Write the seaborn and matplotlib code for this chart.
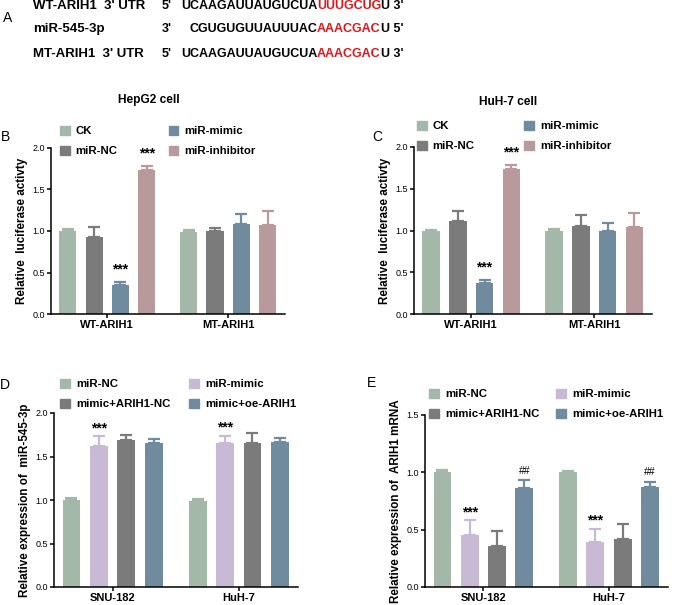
import matplotlib
matplotlib.use('Agg')
import matplotlib.pyplot as plt
import matplotlib.patches as mpatches
import seaborn as sb
import pandas as pd
import numpy as np

# ---- data ----
luc_groups = ['WT-ARIH1', 'MT-ARIH1']
luc_conds = ['CK', 'miR-NC', 'miR-mimic', 'miR-inhibitor']
hep_mean = [[1.00, 0.93, 0.35, 1.73], [0.99, 1.00, 1.09, 1.07]]
hep_err = [[0.02, 0.12, 0.04, 0.05], [0.02, 0.04, 0.12, 0.17]]
huh_mean = [[0.99, 1.11, 0.37, 1.74], [1.00, 1.05, 1.00, 1.04]]
huh_err = [[0.02, 0.12, 0.04, 0.05], [0.02, 0.14, 0.09, 0.17]]

cells = ['SNU-182', 'HuH-7']
res_conds = ['miR-NC', 'miR-mimic', 'mimic+ARIH1-NC', 'mimic+oe-ARIH1']
mir_mean = [[1.00, 1.62, 1.69, 1.66], [0.99, 1.65, 1.66, 1.67]]
mir_err = [[0.02, 0.11, 0.06, 0.04], [0.02, 0.09, 0.11, 0.04]]
arih_mean = [[1.00, 0.455, 0.36, 0.86], [1.00, 0.39, 0.42, 0.87]]
arih_err = [[0.02, 0.13, 0.13, 0.07], [0.01, 0.12, 0.13, 0.05]]

seq_rows = [("WT-ARIH1  3' UTR", "5'", 'UCAAGAUUAUGUCUA', 'UUUGCUG', "U 3'"),
            ('miR-545-3p', "3'", 'CGUGUGUUAUUUAC', 'AAACGAC', "U 5'"),
            ("MT-ARIH1  3' UTR", "5'", 'UCAAGAUUAUGUCUA', 'AAACGAC', "U 3'")]

GREEN = '#a3b8a9'
GREY = '#7b7b7b'
BLUE = '#6f8b9d'
PINK = '#b99a9c'
LAV = '#c8bad5'

W, H = 676, 605
plt.rcParams['font.family'] = ['Liberation Sans', 'DejaVu Sans']
fig = plt.figure(figsize=(W / 100, H / 100), dpi=100)


def fx(x):
    return x / W


def fy(y):
    return 1 - y / H


def make_df(groups, conds, mean, err):
    rows = []
    for i, g in enumerate(groups):
        for j, c in enumerate(conds):
            rows.append({'group': g, 'cond': c, 'value': mean[i][j], 'err': err[i][j]})
    return pd.DataFrame(rows)


def panel(box, groups, conds, mean, err, colors, ymax, ylabel):
    x0, y0, x1, y1 = box
    ax = fig.add_axes([fx(x0), fy(y1), (x1 - x0) / W, (y1 - y0) / H])
    df = make_df(groups, conds, mean, err)
    sb.barplot(data=df, x='group', y='value', hue='cond', hue_order=conds,
               palette=colors, width=0.87, gap=0.35, errorbar=None,
               saturation=1, legend=False, ax=ax)
    tops = {}
    bar_conts = list(ax.containers)
    for j, cont in enumerate(bar_conts):
        for i, bar in enumerate(cont):
            xc = bar.get_x() + bar.get_width() / 2
            h = bar.get_height()
            e = err[i][j]
            ax.errorbar(xc, h, yerr=[[0], [e]], color=colors[j], lw=1.6,
                        capsize=4.5, capthick=1.6)
            tops[(i, j)] = (xc, h + e)
    ax.set_xlim(-0.465, 1.47)
    ax.set_ylim(0, ymax)
    ticks = np.arange(0, ymax + 0.01, 0.5)
    ax.set_yticks(ticks)
    ax.set_yticklabels(['%.1f' % v for v in ticks], fontsize=6.5)
    ax.set_xlabel('')
    ax.set_ylabel(ylabel, fontsize=8.4, fontweight='bold', labelpad=3)
    for lab in ax.get_xticklabels():
        lab.set_fontweight('bold')
        lab.set_fontsize(8)
    sb.despine(ax=ax)
    for s in ['left', 'bottom']:
        ax.spines[s].set_linewidth(1.1)
    ax.tick_params(axis='both', length=3, width=1.1, pad=1.5)
    return ax, tops


def stars(ax, tops, keys, off, txt='***', size=10, weight='bold'):
    for k in keys:
        xc, t = tops[k]
        ax.annotate(txt, (xc, t), xytext=(0, off), textcoords='offset points',
                    ha='center', va='bottom', fontsize=size, fontweight=weight)


def legend(ax, labels, colors, x, y, colsp, pad):
    hs = [mpatches.Patch(color=c, label=l) for l, c in zip(labels, colors)]
    ax.legend(handles=hs, loc='upper left', bbox_to_anchor=(fx(x), fy(y)),
              bbox_transform=fig.transFigure, ncol=2, frameon=False,
              prop={'weight': 'bold', 'size': 8.2}, handlelength=0.85,
              handleheight=0.85, handletextpad=pad, columnspacing=colsp,
              labelspacing=0.85, borderaxespad=0, borderpad=0)


# ---- panel A ----
fig.text(fx(3), fy(18), 'A', fontsize=10, va='center')
rend = fig.canvas.get_renderer()
row_y = [9, 32, 57]
for (lab, end5, seq, red, tail), yy in zip(seq_rows, row_y):
    kw = dict(fontsize=9, fontweight='bold', va='baseline')
    fig.text(fx(33), fy(yy), lab, fontsize=9.5, fontweight='bold', va='baseline')
    fig.text(fx(162), fy(yy), end5, **kw)
    fig.text(fx(317), fy(yy), seq, ha='right', **kw)
    t2 = fig.text(fx(317), fy(yy), red, color='#e0161c', **kw)
    bb = t2.get_window_extent(rend)
    fig.text(bb.x1 / W, fy(yy), tail, **kw)

# ---- panel B ----
colors_bc = [GREEN, GREY, BLUE, PINK]
axB, tB = panel((51, 148, 285, 314), luc_groups, luc_conds, hep_mean, hep_err,
                colors_bc, 2.0, 'Relative  luciferase activty')
stars(axB, tB, [(0, 2), (0, 3)], 4)
legend(axB, luc_conds, colors_bc, 60, 125.5, 4.5, 0.5)
fig.text(fx(149), fy(100), 'HepG2 cell', fontsize=8.6, fontweight='bold', ha='center', va='center')
fig.text(fx(6), fy(137), 'B', fontsize=10, va='center', ha='center')

# ---- panel C ----
axC, tC = panel((414, 147, 652, 314), luc_groups, luc_conds, huh_mean, huh_err,
                colors_bc, 2.0, 'Relative  luciferase activty')
stars(axC, tC, [(0, 2), (0, 3)], 4)
legend(axC, luc_conds, colors_bc, 417, 120.5, 4.4, 0.5)
fig.text(fx(508), fy(102), 'HuH-7 cell', fontsize=8.6, fontweight='bold', ha='center', va='center')
fig.text(fx(377), fy(137), 'C', fontsize=10, va='center', ha='center')

# ---- panel D ----
colors_de = [GREEN, LAV, GREY, BLUE]
leg_order = [0, 2, 1, 3]
axD, tD = panel((54, 413, 298, 587), cells, res_conds, mir_mean, mir_err,
                colors_de, 2.0, 'Relative expression of  miR-545-3p')
stars(axD, tD, [(0, 1), (1, 1)], 0.5)
legend(axD, [res_conds[k] for k in leg_order], [colors_de[k] for k in leg_order],
       60, 378.5, 1.6, 0.6)
fig.text(fx(5), fy(385), 'D', fontsize=10, va='center', ha='center')

# ---- panel E ----
axE, tE = panel((425, 415, 668, 587), cells, res_conds, arih_mean, arih_err,
                colors_de, 1.5, 'Relative expression of  ARIH1 mRNA')
stars(axE, tE, [(0, 1), (1, 1)], 0.5)
stars(axE, tE, [(0, 3), (1, 3)], 3, txt='##', size=7.5, weight='normal')
legend(axE, [res_conds[k] for k in leg_order], [colors_de[k] for k in leg_order],
       429, 388.5, 1.4, 0.6)
fig.text(fx(372), fy(383), 'E', fontsize=10, va='center', ha='center')

fig.savefig('out.png', dpi=100)
